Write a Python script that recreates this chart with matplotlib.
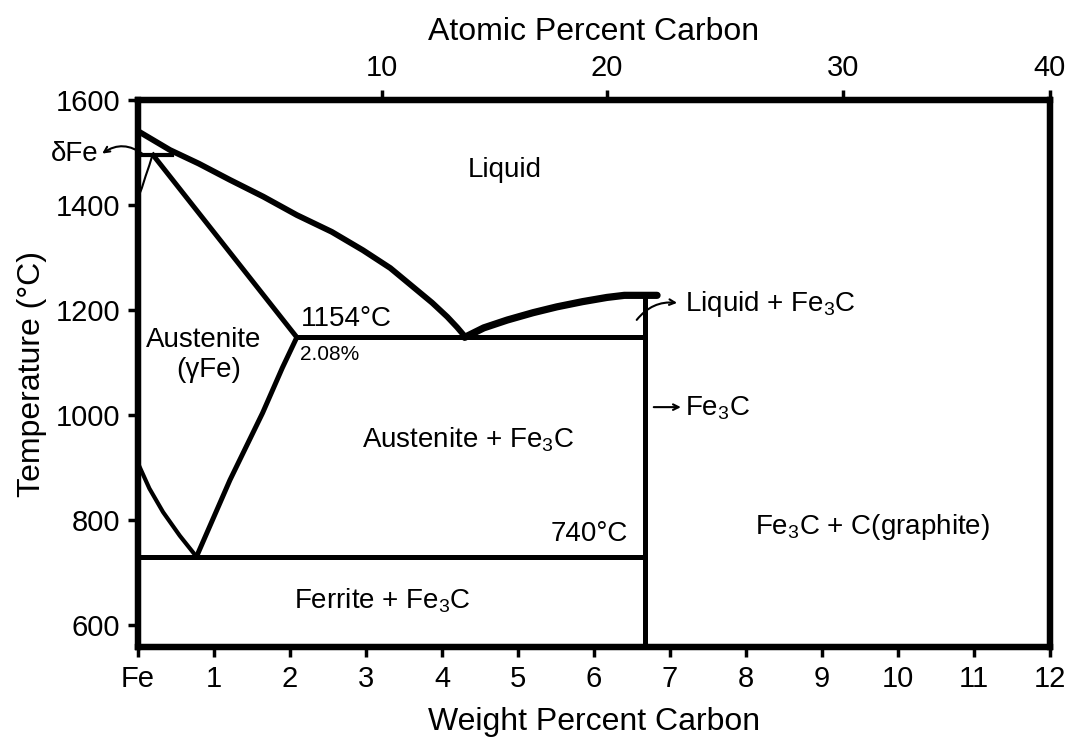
import numpy as np
import matplotlib
matplotlib.use('Agg')
import matplotlib.pyplot as plt

plt.rcParams['font.family'] = ['Liberation Sans', 'DejaVu Sans']
plt.rcParams['mathtext.fontset'] = 'custom'
plt.rcParams['mathtext.rm'] = 'Liberation Sans'
plt.rcParams['mathtext.it'] = 'Liberation Sans:italic'

# Phase boundaries (weight % C, temperature in deg C)
liq_left_wt = [0.0, 0.42, 0.8, 1.21, 1.65, 2.09, 2.55, 2.96, 3.32, 3.62, 3.87, 4.07, 4.2, 4.3]
liq_left_T = [1541, 1505, 1479, 1448, 1416, 1381, 1349, 1314, 1280, 1244, 1214, 1187, 1167, 1150]

liq_right_wt = [4.3, 4.55, 4.86, 5.2, 5.51, 5.85, 6.17, 6.4, 6.83]
liq_right_T = [1148, 1166, 1181, 1195, 1206, 1216, 1224, 1228, 1228]

solidus_wt = [0.2, 2.09]
solidus_T = [1495, 1148]

acm_wt = [2.09, 1.9, 1.64, 1.21, 0.77]
acm_T = [1148, 1090, 1004, 876, 730]

a3_wt = [0.0, 0.15, 0.33, 0.55, 0.77]
a3_T = [908, 860, 815, 770, 730]

delta_wt = [0.0, 0.05, 0.1, 0.15, 0.19]
delta_T = [1414, 1432, 1455, 1476, 1495]

peritectic_wt = [0.0, 0.45]
peritectic_T = 1495

eutectic_wt = [2.09, 6.67]
eutectic_T = 1148

eutectoid_wt = [0.0, 6.67]
eutectoid_T = 730

fe3c_wt = 6.67
fe3c_T = [558, 1226]

# Axis ticks
wt_ticks = list(range(0, 13))
wt_labels = ['Fe'] + [str(i) for i in range(1, 13)]
temp_ticks = [600, 800, 1000, 1200, 1400, 1600]
atomic_labels = ['10', '20', '30', '40']
atomic_pos_wt = [3.21, 6.17, 9.28, 12.0]

fig = plt.figure(figsize=(10.83, 7.47), dpi=100)
ax = fig.add_axes([0.1274, 0.1339, 0.8421, 0.7321])
ax.set_xlim(0, 12)
ax.set_ylim(558, 1600)

lw = 3.6
ax.plot(liq_left_wt, liq_left_T, color='black', lw=4.2, solid_joinstyle='round')
ax.plot(liq_right_wt, liq_right_T, color='black', lw=5.2,
        solid_capstyle='round', solid_joinstyle='round')
ax.plot(solidus_wt, solidus_T, color='black', lw=lw)
ax.plot(acm_wt, acm_T, color='black', lw=lw, solid_joinstyle='round')
ax.plot(a3_wt, a3_T, color='black', lw=3, solid_joinstyle='round')
ax.plot(delta_wt, delta_T, color='black', lw=1.5)
ax.plot(peritectic_wt, [peritectic_T] * 2, color='black', lw=3)
ax.plot(eutectic_wt, [eutectic_T] * 2, color='black', lw=lw)
ax.plot(eutectoid_wt, [eutectoid_T] * 2, color='black', lw=lw)
ax.plot([fe3c_wt] * 2, fe3c_T, color='black', lw=lw)

for sp in ax.spines.values():
    sp.set_linewidth(4.5)
    sp.set_color('black')

ax.set_xticks(wt_ticks)
ax.set_xticklabels(wt_labels)
ax.set_yticks(temp_ticks)
ax.tick_params(axis='both', direction='out', length=7, width=2.5,
               labelsize=21, pad=6)
ax.set_xlabel('Weight Percent Carbon', fontsize=23, labelpad=10)
ax.set_ylabel('Temperature (°C)', fontsize=23, labelpad=6)

top = ax.twiny()
top.set_xlim(ax.get_xlim())
top.set_xticks(atomic_pos_wt)
top.set_xticklabels(atomic_labels)
top.tick_params(axis='x', direction='out', length=7, width=2.5,
                labelsize=21, pad=6)
top.set_xlabel('Atomic Percent Carbon', fontsize=23, labelpad=10)
for sp in top.spines.values():
    sp.set_linewidth(4.5)

fs = 20
fe3c = r'Fe$_\mathregular{3}$C'
ax.text(4.83, 1467, 'Liquid', fontsize=fs, ha='center', va='center')
ax.text(0.86, 1143, 'Austenite', fontsize=fs, ha='center', va='center')
ax.text(0.93, 1085, '(γFe)', fontsize=fs, ha='center', va='center')
ax.text(2.14, 1182, '1154°C', fontsize=fs, ha='left', va='center')
ax.text(2.13, 1116, '2.08%', fontsize=15, ha='left', va='center')
ax.text(4.34, 952, 'Austenite + ' + fe3c, fontsize=fs, ha='center', va='center')
ax.text(6.45, 773, '740°C', fontsize=fs, ha='right', va='center')
ax.text(3.22, 646, 'Ferrite + ' + fe3c, fontsize=fs, ha='center', va='center')
ax.text(9.67, 787, fe3c + ' + C(graphite)', fontsize=fs, ha='center', va='center')
ax.text(7.2, 1212, 'Liquid + ' + fe3c, fontsize=fs, ha='left', va='center')
ax.text(7.2, 1012, fe3c, fontsize=fs, ha='left', va='center')
ax.text(-0.52, 1497, 'δFe', fontsize=fs, ha='right', va='center')

ax.annotate('', xy=(-0.5, 1495), xytext=(0.1, 1493),
            arrowprops=dict(arrowstyle='->', lw=1.5, color='black',
                            connectionstyle='arc3,rad=0.4'),
            annotation_clip=False)
ax.annotate('', xy=(7.13, 1213), xytext=(6.54, 1177),
            arrowprops=dict(arrowstyle='->', lw=1.5, color='black',
                            connectionstyle='arc3,rad=-0.3'))
ax.annotate('', xy=(7.18, 1015), xytext=(6.75, 1015),
            arrowprops=dict(arrowstyle='->', lw=1.5, color='black'))

fig.savefig('out.png', dpi=100)
